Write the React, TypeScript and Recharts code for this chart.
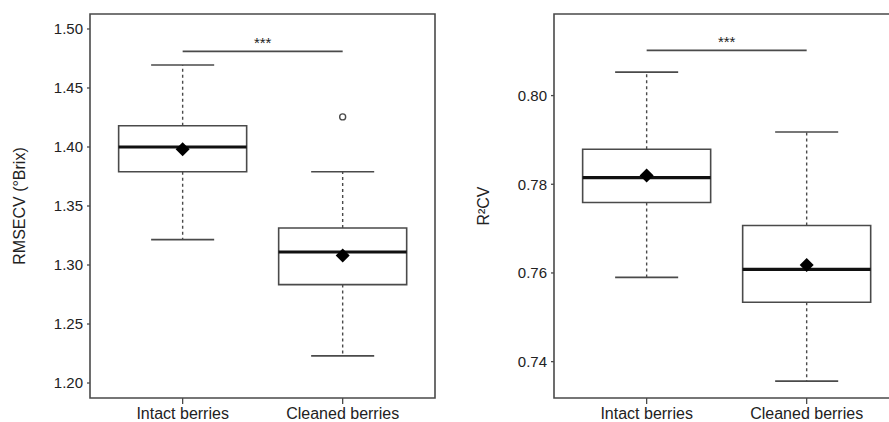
import React from 'react';
import {
  ComposedChart,
  XAxis,
  YAxis,
  ReferenceArea,
  ReferenceLine,
  ReferenceDot,
  Scatter,
} from 'recharts';

// ---------- data ----------
const categories = ['Intact berries', 'Cleaned berries'];
const categoryPos = [1, 2];

// Left panel: RMSECV (°Brix)
const rmseLow = [1.3215, 1.223];
const rmseQ1 = [1.379, 1.2834];
const rmseMedian = [1.4, 1.311];
const rmseQ3 = [1.418, 1.3314];
const rmseHigh = [1.4695, 1.379];
const rmseMean = [1.398, 1.308];
const rmseOutlierCat = [2];
const rmseOutlierValue = [1.4255];
const rmseTicks = [1.2, 1.25, 1.3, 1.35, 1.4, 1.45, 1.5];
const rmseDomain = [1.1873, 1.5127];
const rmseSig = 1.481;

// Right panel: R²CV
const r2Low = [0.759, 0.7356];
const r2Q1 = [0.7759, 0.7534];
const r2Median = [0.7815, 0.7608];
const r2Q3 = [0.7879, 0.7707];
const r2High = [0.8053, 0.7918];
const r2Mean = [0.782, 0.7618];
const r2OutlierCat: number[] = [];
const r2OutlierValue: number[] = [];
const r2Ticks = [0.74, 0.76, 0.78, 0.8];
const r2Domain = [0.7318, 0.8184];
const r2Sig = 0.8102;

const sigLabel = '***';
const xDomain = [0.421, 2.577];

// ---------- styles ----------
const FONT = '"Liberation Sans", Arial, sans-serif';
const LINE = '#4a4a4a';
const TEXT = '#222';
const BOX_HALF = 0.4;
const CAP_HALF = 0.197;

type PanelProps = {
  left: number;
  width: number;
  yAxisWidth: number;
  marginRight: number;
  low: number[];
  q1: number[];
  median: number[];
  q3: number[];
  high: number[];
  mean: number[];
  outCat: number[];
  outVal: number[];
  ticks: number[];
  domain: number[];
  sig: number;
  label: string;
  labelX: number;
};

const Diamond = (p: any) => {
  const { cx, cy } = p;
  const s = 7;
  return (
    <path
      d={`M${cx},${cy - s}L${cx + s},${cy}L${cx},${cy + s}L${cx - s},${cy}Z`}
      fill="#000"
    />
  );
};

const OpenCircle = (p: any) => (
  <circle cx={p.cx} cy={p.cy} r={3} fill="none" stroke={LINE} strokeWidth={1.4} />
);

function Panel(props: PanelProps) {
  const {
    left, width, yAxisWidth, marginRight, low, q1, median, q3, high, mean,
    outCat, outVal, ticks, domain, sig, label, labelX,
  } = props;
  const meanPts = categoryPos.map((c, i) => ({ x: c, y: mean[i] }));
  const outPts = outCat.map((c, i) => ({ x: c, y: outVal[i] }));
  const decimals = 2;

  const yLabel = (lp: any) => {
    const vb = lp.viewBox || {};
    const cy = (vb.y ?? 14) + (vb.height ?? 384) / 2;
    return (
      <text
        x={labelX}
        y={cy}
        transform={`rotate(-90, ${labelX}, ${cy})`}
        textAnchor="middle"
        dominantBaseline="central"
        fontSize={16}
        fontFamily={FONT}
        fill={TEXT}
      >
        {label}
      </text>
    );
  };

  return (
    <div style={{ position: 'absolute', left, top: 0 }}>
      <ComposedChart
        width={width}
        height={422}
        margin={{ top: 14, right: marginRight, bottom: 0, left: 0 }}
      >
        <XAxis
          dataKey="x"
          type="number"
          domain={xDomain}
          allowDataOverflow
          ticks={categoryPos}
          interval={0}
          tickFormatter={(v: number) => categories[Math.round(v) - 1]}
          height={24}
          tickSize={6}
          tickMargin={4}
          axisLine={false}
          tickLine={{ stroke: LINE, strokeWidth: 1.3 }}
          tick={{ fontSize: 16, fontFamily: FONT, fill: TEXT }}
        />
        <YAxis
          dataKey="y"
          type="number"
          domain={domain}
          allowDataOverflow
          ticks={ticks}
          interval={0}
          tickFormatter={(v: number) => v.toFixed(decimals)}
          width={yAxisWidth}
          tickSize={3}
          tickMargin={4}
          axisLine={false}
          tickLine={{ stroke: LINE, strokeWidth: 1.3 }}
          tick={{ fontSize: 15, fontFamily: FONT, fill: TEXT }}
          label={{ content: yLabel }}
        />
        <ReferenceArea
          x1={xDomain[0]}
          x2={xDomain[1]}
          y1={domain[0]}
          y2={domain[1]}
          fill="none"
          fillOpacity={0}
          stroke={LINE}
          strokeWidth={1.6}
          ifOverflow="visible"
        />
        {categoryPos.map((c, i) => (
          <ReferenceArea
            key={`box${i}`}
            x1={c - BOX_HALF}
            x2={c + BOX_HALF}
            y1={q1[i]}
            y2={q3[i]}
            fill="#fff"
            fillOpacity={1}
            stroke={LINE}
            strokeWidth={1.6}
          />
        ))}
        {categoryPos.map((c, i) => (
          <ReferenceLine
            key={`wu${i}`}
            segment={[{ x: c, y: q3[i] }, { x: c, y: high[i] }]}
            stroke={LINE}
            strokeWidth={1.4}
            strokeDasharray="3 3"
          />
        ))}
        {categoryPos.map((c, i) => (
          <ReferenceLine
            key={`wl${i}`}
            segment={[{ x: c, y: q1[i] }, { x: c, y: low[i] }]}
            stroke={LINE}
            strokeWidth={1.4}
            strokeDasharray="3 3"
          />
        ))}
        {categoryPos.map((c, i) => (
          <ReferenceLine
            key={`cu${i}`}
            segment={[{ x: c - CAP_HALF, y: high[i] }, { x: c + CAP_HALF, y: high[i] }]}
            stroke={LINE}
            strokeWidth={1.6}
          />
        ))}
        {categoryPos.map((c, i) => (
          <ReferenceLine
            key={`cl${i}`}
            segment={[{ x: c - CAP_HALF, y: low[i] }, { x: c + CAP_HALF, y: low[i] }]}
            stroke={LINE}
            strokeWidth={1.6}
          />
        ))}
        {categoryPos.map((c, i) => (
          <ReferenceLine
            key={`md${i}`}
            segment={[{ x: c - BOX_HALF, y: median[i] }, { x: c + BOX_HALF, y: median[i] }]}
            stroke="#111"
            strokeWidth={3.2}
          />
        ))}
        <ReferenceLine
          segment={[{ x: categoryPos[0], y: sig }, { x: categoryPos[1], y: sig }]}
          stroke={LINE}
          strokeWidth={1.8}
        />
        <ReferenceDot
          x={(categoryPos[0] + categoryPos[1]) / 2}
          y={sig}
          r={0}
          fill="none"
          stroke="none"
          label={{
            value: sigLabel,
            position: 'top',
            offset: 3,
            fontSize: 15,
            fontFamily: FONT,
            fill: TEXT,
          }}
        />
        <Scatter data={meanPts} dataKey="y" shape={Diamond} isAnimationActive={false} />
        {outPts.length > 0 && (
          <Scatter data={outPts} dataKey="y" shape={OpenCircle} isAnimationActive={false} />
        )}
      </ComposedChart>
    </div>
  );
}

export default function App() {
  return (
    <div
      style={{
        position: 'absolute',
        left: 0,
        top: 0,
        width: 889,
        height: 422,
        overflow: 'hidden',
        background: '#fff',
      }}
    >
      <Panel
        left={0}
        width={440}
        yAxisWidth={90}
        marginRight={5}
        low={rmseLow}
        q1={rmseQ1}
        median={rmseMedian}
        q3={rmseQ3}
        high={rmseHigh}
        mean={rmseMean}
        outCat={rmseOutlierCat}
        outVal={rmseOutlierValue}
        ticks={rmseTicks}
        domain={rmseDomain}
        sig={rmseSig}
        label="RMSECV (°Brix)"
        labelX={19}
      />
      <Panel
        left={440}
        width={490}
        yAxisWidth={114}
        marginRight={31}
        low={r2Low}
        q1={r2Q1}
        median={r2Median}
        q3={r2Q3}
        high={r2High}
        mean={r2Mean}
        outCat={r2OutlierCat}
        outVal={r2OutlierValue}
        ticks={r2Ticks}
        domain={r2Domain}
        sig={r2Sig}
        label="R²CV"
        labelX={43}
      />
    </div>
  );
}
